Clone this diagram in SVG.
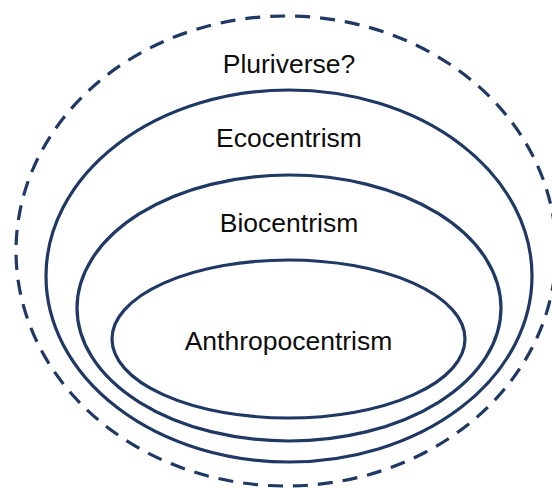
<svg xmlns="http://www.w3.org/2000/svg" width="552" height="488" viewBox="0 0 552 488">
  <style>
    .ring { fill: none; stroke: #1F3864; stroke-width: 3.2; }
    .dash { stroke-dasharray: 15 10; }
    .lbl { font-family: "Liberation Sans", Arial, sans-serif; font-size: 26.5px; fill: #0d0d0d; text-anchor: middle; }
  </style>
  <rect width="552" height="488" fill="#ffffff"/>
  <g id="pluriverse">
    <ellipse class="ring dash" cx="286" cy="251" rx="270" ry="235"/>
    <text class="lbl" x="289" y="73">Pluriverse?</text>
  </g>
  <g id="ecocentrism">
    <ellipse class="ring" cx="289" cy="276" rx="243" ry="186"/>
    <text class="lbl" x="289" y="147">Ecocentrism</text>
  </g>
  <g id="biocentrism">
    <ellipse class="ring" cx="289" cy="308" rx="212" ry="133"/>
    <text class="lbl" x="289" y="232">Biocentrism</text>
  </g>
  <g id="anthropocentrism">
    <ellipse class="ring" cx="288.5" cy="339" rx="176.5" ry="79"/>
    <text class="lbl" x="288.5" y="350">Anthropocentrism</text>
  </g>
  <g id="connectors"></g>
</svg>
